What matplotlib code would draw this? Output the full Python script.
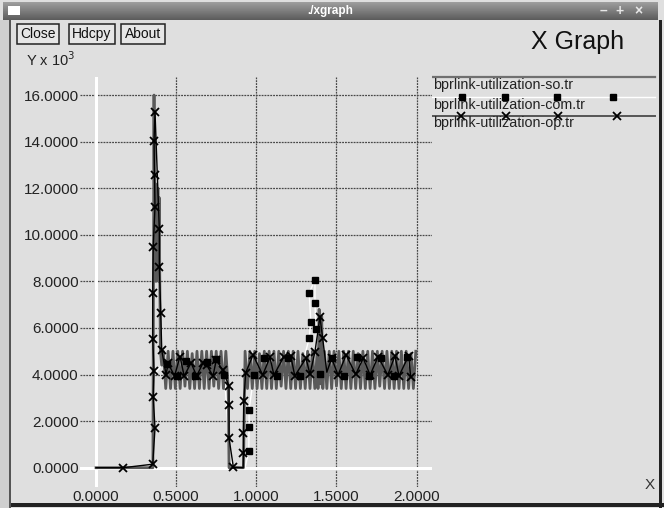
import matplotlib
matplotlib.use("Agg")
import matplotlib.pyplot as plt
from matplotlib.patches import Rectangle
import numpy as np

plt.rcParams['font.family'] = ['Liberation Sans', 'DejaVu Sans']

# ---------------- data ----------------
x_ticks = [0.0, 0.5, 1.0, 1.5, 2.0]
y_ticks = [0, 2, 4, 6, 8, 10, 12, 14, 16]
x_tick_labels = ["0.0000", "0.5000", "1.0000", "1.5000", "2.0000"]
y_tick_labels = ["0.0000", "2.0000", "4.0000", "6.0000", "8.0000",
                 "10.0000", "12.0000", "14.0000", "16.0000"]

series_names = ["bprlink-utilization-so.tr",
                "bprlink-utilization-com.tr",
                "bprlink-utilization-op.tr"]

# so.tr (Y in units of 10^3)
so_x = [0.000, 0.355, 0.362, 0.366, 0.370, 0.374, 0.378, 0.382, 0.386, 0.390,
        0.394, 0.398, 0.402, 0.410,
        0.420, 0.435, 0.450, 0.465, 0.480, 0.495, 0.510, 0.525, 0.540, 0.555,
        0.570, 0.585, 0.600, 0.615, 0.630, 0.645, 0.660, 0.675, 0.690, 0.705,
        0.720, 0.735, 0.750, 0.765, 0.780, 0.795, 0.810, 0.825, 0.830, 0.920,
        0.930, 0.945, 0.960, 0.975, 0.990, 1.005, 1.020, 1.035, 1.050, 1.065,
        1.080, 1.095, 1.110, 1.125, 1.140, 1.155, 1.170, 1.185, 1.200, 1.215,
        1.230, 1.245, 1.260, 1.275, 1.290, 1.305, 1.320, 1.335, 1.350, 1.365,
        1.380, 1.385, 1.392, 1.400, 1.408, 1.415, 1.425, 1.440, 1.455, 1.470,
        1.485, 1.500, 1.515, 1.530, 1.545, 1.560, 1.575, 1.590, 1.605, 1.620,
        1.635, 1.650, 1.665, 1.680, 1.695, 1.710, 1.725, 1.740, 1.755, 1.770,
        1.785, 1.800, 1.815, 1.830, 1.845, 1.860, 1.875, 1.890, 1.905, 1.920,
        1.935, 1.950, 1.965, 1.980, 1.995]
so_y = [0.0, 0.0, 16.0, 8.4, 12.2, 8.0, 11.8, 8.2, 12.0, 8.0,
        11.6, 8.0, 5.0, 4.4,
        5.0, 3.4, 5.0, 3.4, 5.0, 3.4, 5.0, 3.4, 5.0, 3.5,
        5.0, 3.4, 4.9, 3.4, 5.0, 3.4, 5.0, 3.4, 5.0, 3.4,
        5.0, 3.5, 5.0, 3.4, 5.0, 3.4, 5.0, 3.4, 0.0, 0.0,
        5.0, 3.4, 5.0, 3.4, 5.0, 3.4, 4.9, 3.4, 5.0, 3.4,
        5.0, 3.4, 5.0, 3.4, 5.0, 3.5, 5.0, 3.4, 5.0, 3.4,
        5.0, 3.4, 5.0, 3.4, 4.9, 3.4, 5.0, 3.4, 5.0, 3.4,
        5.0, 3.4, 6.8, 3.6, 6.5, 3.4, 5.0, 3.4, 5.0, 3.4,
        5.0, 3.5, 5.0, 3.4, 5.0, 3.4, 5.0, 3.4, 5.0, 3.4,
        4.9, 3.4, 5.0, 3.4, 5.0, 3.4, 5.0, 3.4, 5.0, 3.5,
        5.0, 3.4, 5.0, 3.4, 5.0, 3.4, 5.0, 3.4, 5.0, 3.4,
        5.0, 3.4, 4.9, 3.4, 5.0]

# com.tr
com_x = [0.000, 0.358, 0.362, 0.410, 0.440, 0.503, 0.560, 0.620, 0.690, 0.750,
         0.800, 0.832, 0.850, 0.930, 0.953, 0.955, 0.955, 0.985, 1.050, 1.130,
         1.200, 1.270, 1.330, 1.340, 1.330, 1.366, 1.366, 1.372, 1.400, 1.470,
         1.550, 1.630, 1.700, 1.780, 1.860, 1.940]
com_y = [0.0, 0.0, 4.0, 4.4, 4.45, 3.94, 4.60, 3.95, 4.55, 4.65,
         4.00, 1.0, 0.0, 0.0, 0.73, 1.76, 2.48, 4.00, 4.70, 3.95,
         4.70, 3.95, 5.56, 6.27, 7.51, 8.06, 7.06, 5.94, 4.01, 4.70,
         3.95, 4.75, 3.95, 4.70, 3.95, 4.75]
com_marked = [0, 0, 0, 0, 1, 1, 1, 1, 1, 1,
              1, 0, 0, 0, 1, 1, 1, 1, 1, 1,
              1, 1, 1, 1, 1, 1, 1, 1, 1, 1,
              1, 1, 1, 1, 1, 1]

# op.tr
op_x = [0.000, 0.170, 0.354, 0.368, 0.357, 0.362, 0.354, 0.354, 0.357, 0.368,
        0.365, 0.362, 0.368, 0.395, 0.395, 0.404, 0.410, 0.437, 0.450, 0.490,
        0.524, 0.550, 0.593, 0.628, 0.667, 0.690, 0.730, 0.750, 0.790, 0.830,
        0.830, 0.830, 0.857, 0.918, 0.920, 0.920, 0.922, 0.934, 0.980, 1.040,
        1.085, 1.110, 1.170, 1.215, 1.240, 1.310, 1.335, 1.366, 1.397, 1.414,
        1.440, 1.470, 1.510, 1.560, 1.620, 1.667, 1.710, 1.760, 1.820, 1.865,
        1.890, 1.950, 1.963]
op_y = [0.0, 0.0, 0.15, 1.69, 3.05, 4.17, 5.51, 7.49, 9.49, 11.18,
        12.57, 14.04, 15.29, 10.24, 8.63, 6.63, 5.05, 4.00, 4.48, 3.94,
        4.77, 3.94, 4.50, 3.94, 4.49, 4.41, 3.94, 4.62, 4.19, 3.51,
        2.69, 1.26, 0.02, 0.0, 0.62, 1.50, 2.88, 4.08, 4.84, 3.98,
        4.74, 3.98, 4.74, 4.80, 3.94, 4.70, 4.01, 4.98, 6.48, 5.56,
        4.10, 4.70, 3.98, 4.84, 4.01, 4.70, 3.98, 4.77, 3.98, 4.80,
        3.94, 4.80, 3.91]
op_marked = [0, 1, 1, 1, 1, 1, 1, 1, 1, 1,
             1, 1, 1, 1, 1, 1, 1, 1, 1, 1,
             1, 1, 1, 1, 1, 1, 1, 1, 1, 1,
             1, 1, 1, 0, 1, 1, 1, 1, 1, 1,
             1, 1, 1, 1, 1, 1, 1, 1, 1, 1,
             0, 1, 1, 1, 1, 1, 1, 1, 1, 1,
             1, 1, 1]

# ---------------- figure ----------------
W, H = 664, 508
BG = '#dfdfdf'
fig = plt.figure(figsize=(W / 100, H / 100), dpi=100, facecolor=BG)


def fx(px):
    return px / W


def fy(py):
    return 1 - py / H


# window chrome: title bar
tb = fig.add_axes([fx(3), fy(20), fx(658) - fx(3), fy(2) - fy(20)])
grad = np.linspace(0.62, 0.36, 40).reshape(-1, 1)
tb.imshow(grad, aspect='auto', cmap='gray', vmin=0, vmax=1, extent=[0, 1, 0, 1])
tb.set_axis_off()
tb.text(0.5, 0.5, "./xgraph", color='white', fontsize=8.5, fontweight='bold',
        ha='center', va='center', transform=tb.transAxes)
fig.patches.append(Rectangle((fx(8), fy(15)), fx(12), fy(6) - fy(15), transform=fig.transFigure,
                             facecolor='white', edgecolor='none', zorder=5))
for bx, sym in [(603, "\u2013"), (620, "+"), (638, "\u00d7")]:
    fig.text(fx(bx), fy(11), sym, color='#e8e8e8', fontsize=10, fontweight='bold',
             ha='center', va='center', zorder=6)

# window borders
fig.patches.append(Rectangle((fx(659), 0), fx(3), fy(20), transform=fig.transFigure,
                             facecolor='#222222', edgecolor='none'))
fig.patches.append(Rectangle((0, fy(507)), 1, fy(503) - fy(507), transform=fig.transFigure,
                             facecolor='#222222', edgecolor='none'))
fig.patches.append(Rectangle((0, 0), fx(10), fy(20), transform=fig.transFigure,
                             facecolor='#cfcfcf', edgecolor='none'))
fig.patches.append(Rectangle((fx(9), 0), fx(1.5), fy(20), transform=fig.transFigure,
                             facecolor='#555555', edgecolor='none'))

# buttons
for cx, lab in [(38, "Close"), (92, "Hdcpy"), (143, "About")]:
    fig.text(fx(cx), fy(34), lab, fontsize=10, ha='center', va='center', color='#111111',
             bbox=dict(boxstyle='square,pad=0.25', facecolor='#e6e6e6', edgecolor='#222222', lw=1.1))

fig.text(fx(578), fy(42), "X Graph", fontsize=18, ha='center', va='center', color='#111111')
fig.text(fx(26), fy(60), "Y x 10$^3$", fontsize=10.5, ha='left', va='center', color='#222222')
fig.text(fx(650), fy(485), "X", fontsize=11, ha='center', va='center', color='#333333')

# main axes
x0, x1 = (80 - 96) / 160.3, (432 - 96) / 160.3
y0, y1 = (467.7 - 487) / 23.29, (467.7 - 77) / 23.29
ax = fig.add_axes([fx(80), fy(487), fx(432) - fx(80), fy(77) - fy(487)])
ax.set_facecolor('none')
ax.set_xlim(x0, x1)
ax.set_ylim(y0, y1)
for s in ax.spines.values():
    s.set_visible(False)
ax.set_xticks(x_ticks)
ax.set_xticklabels(x_tick_labels)
ax.set_yticks(y_ticks)
ax.set_yticklabels(y_tick_labels)
ax.tick_params(length=0, labelsize=11, labelcolor='#222222')
ax.tick_params(axis='y', pad=1)
ax.tick_params(axis='x', pad=2)
ax.grid(True, color='#484848', linestyle=(0, (1.5, 0.8)), linewidth=0.9)
ax.set_axisbelow(True)
ax.axhline(0, color='white', lw=2.2, zorder=0.8)
ax.axvline(0, color='white', lw=2.2, zorder=0.8)

ax.plot(com_x, com_y, color='white', lw=1.0, zorder=1.5)
ax.plot(so_x, so_y, color='#5a5a5a', lw=2.0, zorder=2)
com_idx = [i for i, m in enumerate(com_marked) if m]
ax.plot(com_x, com_y, linestyle='none', marker='s', ms=4, mfc='black', mec='black',
        markevery=com_idx, zorder=3)
op_idx = [i for i, m in enumerate(op_marked) if m]
ax.plot(op_x, op_y, color='black', lw=1.0, marker='x', ms=5.5, mew=1.3,
        markevery=op_idx, zorder=4)

# legend region (pixel coordinates)
lg = fig.add_axes([fx(432), fy(132), fx(657) - fx(432), fy(70) - fy(132)])
lg.set_xlim(432, 657)
lg.set_ylim(132, 70)
lg.set_axis_off()
lg.plot([432, 655], [77, 77], color='#707070', lw=1.6)
lg.plot([432, 655], [97, 97], color='white', lw=1.0)
lg.plot([462, 505, 557, 613], [97, 97, 97, 97], linestyle='none', marker='s', ms=4,
        color='black')
lg.plot([432, 655], [115.5, 115.5], color='#555555', lw=1.4)
lg.plot([461, 506, 558, 617], [115.5] * 4, linestyle='none', marker='x', ms=5.5, mew=1.3,
        color='black')
for yy, name in zip([85.5, 104.5, 123.5], series_names):
    lg.text(433, yy, name, fontsize=10.3, ha='left', va='center', color='#222222')

fig.savefig("out.png", dpi=100, facecolor=BG)
